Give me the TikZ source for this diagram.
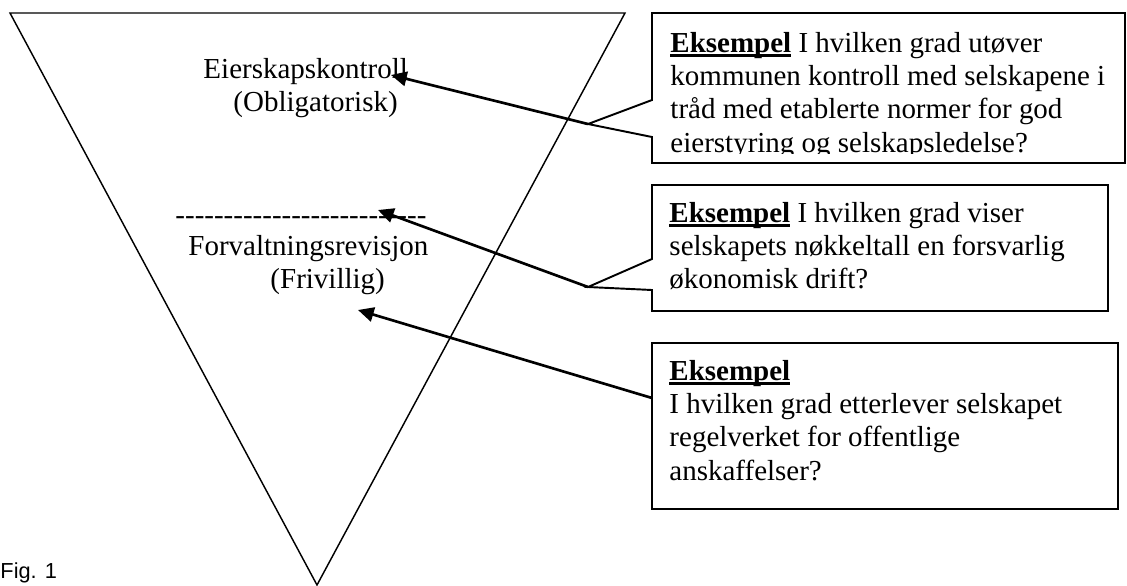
\documentclass[tikz,border=0pt]{standalone}
\usepackage{fontspec}
\setmainfont{Liberation Serif}
\newfontfamily\figfont{Liberation Sans}
\usetikzlibrary{arrows.meta}

\tikzset{
  callout/.style={draw, line width=0.8pt},
  pointer/.style={line width=1.1pt, -{Triangle[length=6.5pt,width=6pt]}},
  boxtext/.style={anchor=base west, inner sep=0pt,
    font=\fontsize{12pt}{13.8pt}\selectfont},
  leveltext/.style={anchor=base west, inner sep=0pt,
    font=\fontsize{12pt}{13.8pt}\selectfont}
}
% thick underline, close under the word
\newcommand{\thickul}[1]{\leavevmode\setbox0\hbox{#1}\rlap{\rule[-1.9pt]{\wd0}{1.1pt}}\box0}
\newcommand{\eks}{\thickul{\textbf{Eksempel}}}
\newcommand{\dashrow}{-{}-{}-{}-{}-{}-{}-{}-{}-{}-{}-{}-{}-{}-{}-{}-{}-{}-{}-{}-{}-{}-{}-{}-{}-{}-{}}
% lines of a box, first baseline on the node
\newcommand{\boxlines}[1]{\parbox[t]{200pt}{\raggedright #1}}

\begin{document}
\begin{tikzpicture}[x=0.414pt,y=-0.414pt]
\useasboundingbox (0,0) rectangle (1127,586);
% the funnel
\draw[line width=0.6pt] (10,13) -- (625,13) -- (317,585) -- cycle;

% the two levels inside it
\node[leveltext] (eier) at (203,78) {Eierskapskontroll};
\node[leveltext] (oblig) at (233,111) {(Obligatorisk)};
\node[leveltext] (skille) at (175,224) {\dashrow};
\node[leveltext] (forv) at (188,255) {Forvaltningsrevisjon};
\node[leveltext] (friv) at (270,288) {(Frivillig)};

% where the arrows end
\coordinate (m1) at (391,75);
\coordinate (m2) at (378,210);
\coordinate (m3) at (358,310);

% callout boxes, the tip of each one is named
\draw[callout] (652,13) -- (1125,13) -- (1125,163) -- (652,163) -- (652,137)
  -- (588,124) coordinate (tip1) -- (652,100) -- cycle;
\begin{scope}
  \clip (652,13) rectangle (1125,153);
  \node[boxtext] (eks1) at (670,52) {\boxlines{\eks{} I hvilken grad utøver\\
    kommunen kontroll med selskapene i\\
    tråd med etablerte normer for god\\
    eierstyring og selskapsledelse?}};
\end{scope}

\draw[callout] (652,185) -- (1108,185) -- (1108,311) -- (652,311) -- (652,290)
  -- (588,287) coordinate (tip2) -- (652,259) -- cycle;
\node[boxtext] (eks2) at (669,222) {\boxlines{\eks{} I hvilken grad viser\\
  selskapets nøkkeltall en forsvarlig\\
  økonomisk drift?}};

\draw[callout] (652,343) rectangle (1118,509);
\coordinate (tip3) at (652,398);
\node[boxtext] (eks3) at (669,380) {\boxlines{\eks\\
  I hvilken grad etterlever selskapet\\
  regelverket for offentlige\\
  anskaffelser?}};

% arrows from the boxes into the funnel
\draw[pointer] (tip1) -- (m1);
\draw[pointer] (tip2) -- (m2);
\draw[pointer] (tip3) -- (m3);

\node[anchor=base west, inner sep=0pt, font=\figfont\fontsize{9pt}{10pt}\selectfont]
  (fig) at (0,578) {Fig. 1};
\end{tikzpicture}
\end{document}
